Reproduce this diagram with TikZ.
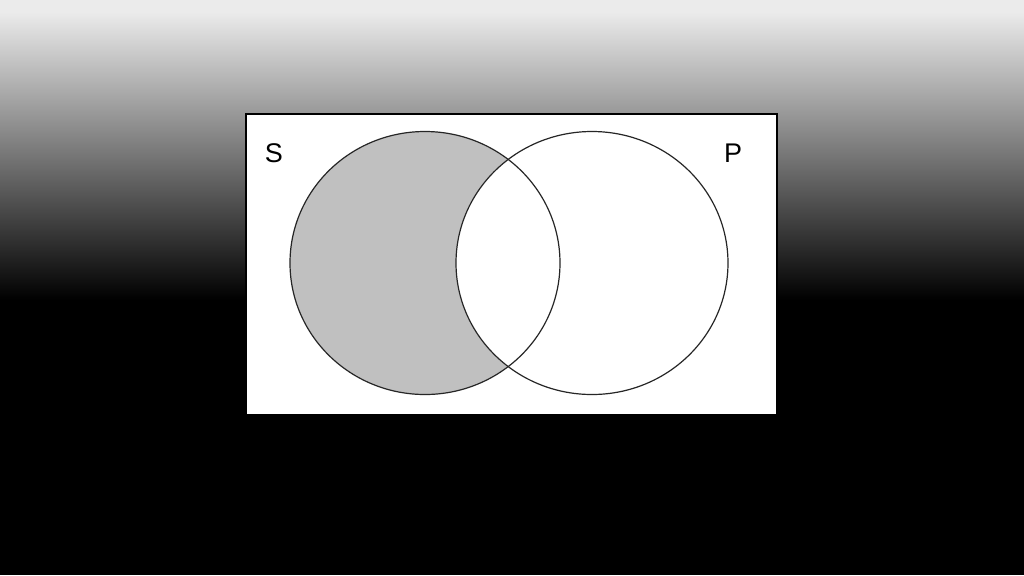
\documentclass[tikz,border=0pt]{standalone}
\usepackage{fontspec}
\setmainfont{Liberation Sans}
\usetikzlibrary{positioning}
\definecolor{shadegray}{HTML}{C0C0C0}
\definecolor{topgray}{HTML}{EBEBEB}
\begin{document}
\begin{tikzpicture}[x=0.5pt,y=-0.5pt,
            set line/.style={draw=black!85,line width=0.6pt},
            set label/.style={font=\fontsize{13.5}{14}\selectfont,inner sep=0pt}]
        \useasboundingbox (0,0) rectangle (1024,575);

        % Background
        \fill[black] (0,0) rectangle (1024,575);
        \fill[topgray] (0,0) rectangle (1024,12);
        \shade[top color=topgray,bottom color=black,middle color=black!50!topgray]
            (0,12) rectangle (1024,300);

        % Frame
        \draw[fill=white,line width=1pt] (246,114) rectangle (777,415);

        % Sets
        \coordinate (cS) at (425,263);
        \coordinate (cP) at (592,263);
        \fill[shadegray] (cS) ellipse [x radius=135,y radius=131.5];
        \fill[white] (cP) ellipse [x radius=136,y radius=131.5];
        \draw[set line] (cS) ellipse [x radius=135,y radius=131.5];
        \draw[set line] (cP) ellipse [x radius=136,y radius=131.5];

        % Labels
        \node[set label] (S) at (274,153) {S};
        \node[set label] (P) at (733,153) {P};

\end{tikzpicture}
\end{document}
